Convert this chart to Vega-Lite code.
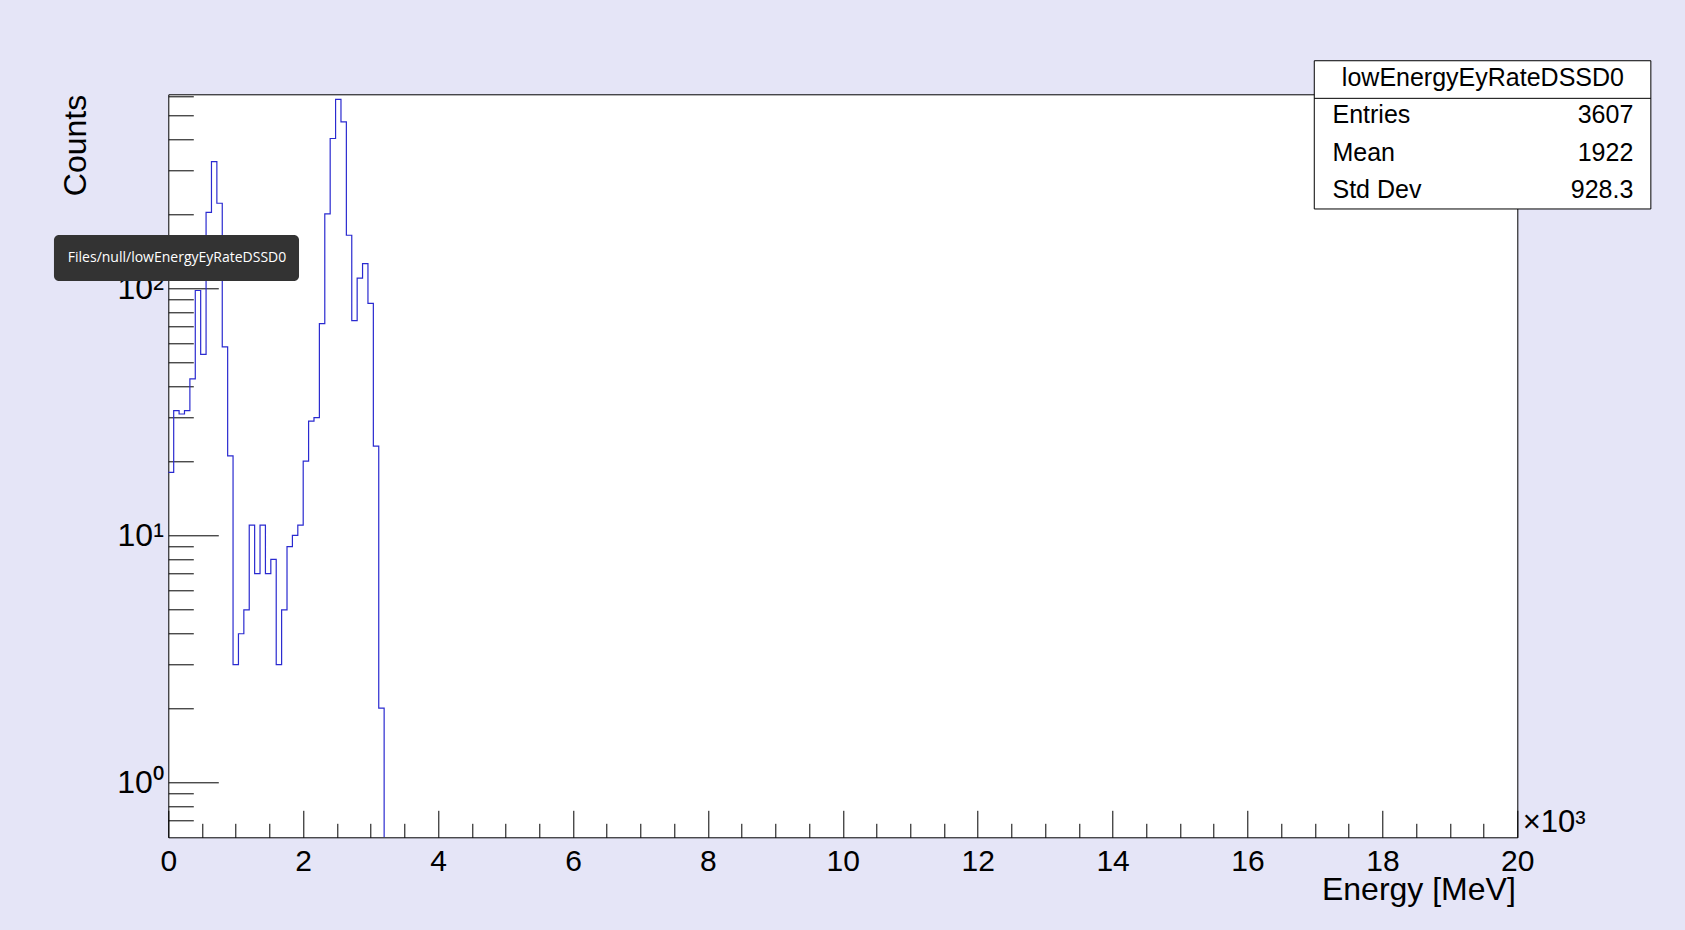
{
  "$schema": "https://vega.github.io/schema/vega-lite/v6.json",
  "width": 1349,
  "height": 743,
  "autosize": {"type": "none"},
  "padding": {"left": 168.3, "top": 94.3, "right": 167.7, "bottom": 92.7},
  "background": "#e5e5f7",
  "datasets": {
    "bins": [
      {"e": 0.00, "n": 18}, {"e": 0.08, "n": 32}, {"e": 0.16, "n": 31}, {"e": 0.24, "n": 32},
      {"e": 0.32, "n": 43}, {"e": 0.40, "n": 98}, {"e": 0.48, "n": 54}, {"e": 0.56, "n": 203},
      {"e": 0.64, "n": 326}, {"e": 0.72, "n": 221}, {"e": 0.80, "n": 58}, {"e": 0.88, "n": 21},
      {"e": 0.96, "n": 3}, {"e": 1.04, "n": 4}, {"e": 1.12, "n": 5}, {"e": 1.20, "n": 11},
      {"e": 1.28, "n": 7}, {"e": 1.36, "n": 11}, {"e": 1.44, "n": 7}, {"e": 1.52, "n": 8},
      {"e": 1.60, "n": 3}, {"e": 1.68, "n": 5}, {"e": 1.76, "n": 9}, {"e": 1.84, "n": 10},
      {"e": 1.92, "n": 11}, {"e": 2.00, "n": 20}, {"e": 2.08, "n": 29}, {"e": 2.16, "n": 30},
      {"e": 2.24, "n": 72}, {"e": 2.32, "n": 200}, {"e": 2.40, "n": 404}, {"e": 2.48, "n": 582},
      {"e": 2.56, "n": 472}, {"e": 2.64, "n": 164}, {"e": 2.72, "n": 74}, {"e": 2.80, "n": 110},
      {"e": 2.88, "n": 126}, {"e": 2.96, "n": 87}, {"e": 3.04, "n": 23}, {"e": 3.12, "n": 2},
      {"e": 3.20, "n": 0}
    ]
  },
  "layer": [
    {
      "data": {"name": "bins"},
      "mark": {"type": "line", "interpolate": "step-after", "color": "#2a2ad0", "strokeWidth": 1.2, "clip": true, "invalid": "show"},
      "encoding": {
        "x": {
          "field": "e", "type": "quantitative",
          "scale": {"domain": [0, 20], "nice": false, "zero": false},
          "axis": {
            "orient": "bottom", "values": [0, 2, 4, 6, 8, 10, 12, 14, 16, 18, 20],
            "ticks": false, "tickSize": 0, "domain": false, "grid": false,
            "labelFontSize": 30, "labelPadding": 33, "labelBaseline": "alphabetic", "labelColor": "#000",
            "labelFlush": false, "labelOverlap": false,
            "title": "Energy [MeV]", "titleFontSize": 32, "titleFontWeight": "normal", "titleColor": "#000",
            "titleX": 1347, "titleY": 62, "titleAlign": "right", "titleBaseline": "alphabetic"
          }
        },
        "y": {
          "field": "n", "type": "quantitative",
          "scale": {"type": "log", "domain": [0.6, 610], "nice": false, "clamp": true},
          "axis": {
            "orient": "left", "values": [1, 10, 100],
            "labelExpr": "datum.value == 1 ? '10⁰' : datum.value == 10 ? '10¹' : '10²'",
            "ticks": false, "tickSize": 0, "domain": false, "grid": false,
            "labelFontSize": 32, "labelPadding": 5, "labelBaseline": "middle", "labelColor": "#000",
            "labelFlush": false, "labelOverlap": false,
            "title": "Counts", "titleFontSize": 32, "titleFontWeight": "normal", "titleColor": "#000",
            "titleX": -83, "titleY": 0, "titleAngle": 270, "titleAlign": "right", "titleBaseline": "alphabetic"
          }
        }
      }
    },
    {
      "data": {"values": [{}]},
      "mark": {"type": "rect", "fill": "white", "stroke": "#000", "strokeWidth": 1},
      "encoding": {
        "x": {
          "datum": 16.99, "type": "quantitative",
          "scale": {"domain": [0, 20], "nice": false, "zero": false},
          "axis": {
            "orient": "bottom", "values": [0, 2, 4, 6, 8, 10, 12, 14, 16, 18, 20],
            "offset": -27, "tickSize": 27, "tickColor": "#000", "labels": false,
            "domain": false, "grid": false, "title": null
          }
        },
        "x2": {"datum": 21.98},
        "y": {
          "datum": 834, "type": "quantitative",
          "scale": {"type": "log", "domain": [0.6, 610], "nice": false},
          "axis": {
            "orient": "left", "values": [1, 10, 100],
            "offset": -50, "tickSize": 50, "tickColor": "#000", "labels": false,
            "domain": false, "grid": false, "title": null
          }
        },
        "y2": {"datum": 209.5}
      }
    },
    {
      "data": {"values": [{}]},
      "mark": {"type": "rule", "color": "#000", "strokeWidth": 1},
      "encoding": {
        "x": {
          "datum": 16.99, "type": "quantitative",
          "scale": {"domain": [0, 20], "nice": false, "zero": false},
          "axis": {
            "orient": "bottom",
            "values": [0.5, 1, 1.5, 2.5, 3, 3.5, 4.5, 5, 5.5, 6.5, 7, 7.5, 8.5, 9, 9.5, 10.5, 11, 11.5, 12.5, 13, 13.5, 14.5, 15, 15.5, 16.5, 17, 17.5, 18.5, 19, 19.5],
            "offset": -14, "tickSize": 14, "tickColor": "#000", "labels": false,
            "domain": false, "grid": false, "title": null
          }
        },
        "x2": {"datum": 21.98},
        "y": {
          "datum": 587.5, "type": "quantitative",
          "scale": {"type": "log", "domain": [0.6, 610], "nice": false},
          "axis": {
            "orient": "left",
            "values": [0.7, 0.8, 0.9, 2, 3, 4, 5, 6, 7, 8, 9, 20, 30, 40, 50, 60, 70, 80, 90, 200, 300, 400, 500, 600],
            "offset": -25, "tickSize": 25, "tickColor": "#000", "labels": false,
            "domain": false, "grid": false, "title": null
          }
        }
      }
    },
    {
      "data": {"values": [{}]},
      "mark": {"type": "text", "fontSize": 25, "align": "center", "baseline": "alphabetic", "color": "#000"},
      "encoding": {
        "x": {"datum": 19.49, "type": "quantitative", "axis": null},
        "y": {"datum": 659, "type": "quantitative", "axis": null, "scale": {"type": "log", "domain": [0.6, 610], "nice": false}},
        "text": {"value": "lowEnergyEyRateDSSD0"}
      }
    },
    {
      "data": {"values": [{}]},
      "mark": {"type": "text", "fontSize": 25, "align": "left", "baseline": "alphabetic", "color": "#000"},
      "encoding": {
        "x": {"datum": 17.26, "type": "quantitative", "axis": null},
        "y": {"datum": 468, "type": "quantitative", "axis": null, "scale": {"type": "log", "domain": [0.6, 610], "nice": false}},
        "text": {"value": "Entries"}
      }
    },
    {
      "data": {"values": [{}]},
      "mark": {"type": "text", "fontSize": 25, "align": "right", "baseline": "alphabetic", "color": "#000"},
      "encoding": {
        "x": {"datum": 21.72, "type": "quantitative", "axis": null},
        "y": {"datum": 468, "type": "quantitative", "axis": null, "scale": {"type": "log", "domain": [0.6, 610], "nice": false}},
        "text": {"value": "3607"}
      }
    },
    {
      "data": {"values": [{}]},
      "mark": {"type": "text", "fontSize": 25, "align": "left", "baseline": "alphabetic", "color": "#000"},
      "encoding": {
        "x": {"datum": 17.26, "type": "quantitative", "axis": null},
        "y": {"datum": 327.6, "type": "quantitative", "axis": null, "scale": {"type": "log", "domain": [0.6, 610], "nice": false}},
        "text": {"value": "Mean"}
      }
    },
    {
      "data": {"values": [{}]},
      "mark": {"type": "text", "fontSize": 25, "align": "right", "baseline": "alphabetic", "color": "#000"},
      "encoding": {
        "x": {"datum": 21.72, "type": "quantitative", "axis": null},
        "y": {"datum": 327.6, "type": "quantitative", "axis": null, "scale": {"type": "log", "domain": [0.6, 610], "nice": false}},
        "text": {"value": "1922"}
      }
    },
    {
      "data": {"values": [{}]},
      "mark": {"type": "text", "fontSize": 25, "align": "left", "baseline": "alphabetic", "color": "#000"},
      "encoding": {
        "x": {"datum": 17.26, "type": "quantitative", "axis": null},
        "y": {"datum": 232.8, "type": "quantitative", "axis": null, "scale": {"type": "log", "domain": [0.6, 610], "nice": false}},
        "text": {"value": "Std Dev"}
      }
    },
    {
      "data": {"values": [{}]},
      "mark": {"type": "text", "fontSize": 25, "align": "right", "baseline": "alphabetic", "color": "#000"},
      "encoding": {
        "x": {"datum": 21.72, "type": "quantitative", "axis": null},
        "y": {"datum": 232.8, "type": "quantitative", "axis": null, "scale": {"type": "log", "domain": [0.6, 610], "nice": false}},
        "text": {"value": "928.3"}
      }
    },
    {
      "data": {"values": [{}]},
      "mark": {"type": "text", "fontSize": 31, "align": "left", "baseline": "alphabetic", "color": "#000"},
      "encoding": {
        "x": {"datum": 20.08, "type": "quantitative", "axis": null},
        "y": {"datum": 0.629, "type": "quantitative", "axis": null, "scale": {"type": "log", "domain": [0.6, 610], "nice": false}},
        "text": {"value": "×10³"}
      }
    },
    {
      "data": {"values": [{}]},
      "mark": {"type": "rect", "fill": "#333333", "cornerRadius": 5},
      "encoding": {
        "x": {"datum": -1.695, "type": "quantitative", "axis": null},
        "x2": {"datum": 1.938},
        "y": {"datum": 164.4, "type": "quantitative", "axis": null, "scale": {"type": "log", "domain": [0.6, 610], "nice": false}},
        "y2": {"datum": 107.1}
      }
    },
    {
      "data": {"values": [{}]},
      "mark": {"type": "text", "font": "Open Sans", "fontSize": 14, "align": "left", "baseline": "middle", "color": "#ffffff"},
      "encoding": {
        "x": {"datum": -1.49, "type": "quantitative", "axis": null},
        "y": {"datum": 132.3, "type": "quantitative", "axis": null, "scale": {"type": "log", "domain": [0.6, 610], "nice": false}},
        "text": {"value": "Files/null/lowEnergyEyRateDSSD0"}
      }
    }
  ],
  "resolve": {"scale": {"y": "independent"}, "axis": {"x": "independent", "y": "independent"}},
  "config": {
    "font": "Liberation Sans",
    "view": {"stroke": "#000", "strokeWidth": 1, "fill": "white"},
    "axis": {"grid": false, "labelFont": "Liberation Sans", "titleFont": "Liberation Sans"}
  }
}
